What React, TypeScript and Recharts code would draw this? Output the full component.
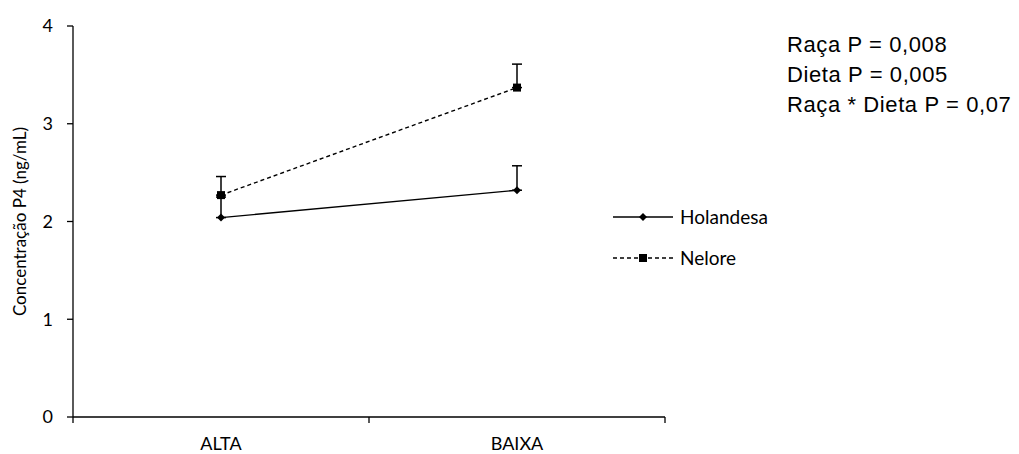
import React from "react";
import {
  LineChart,
  Line,
  XAxis,
  YAxis,
  ErrorBar,
  Legend,
  Label,
} from "recharts";

const categories = ["ALTA", "BAIXA"];
const holandesa = [2.04, 2.32];
const holandesaErr = [0.21, 0.25];
const nelore = [2.27, 3.37];
const neloreErr = [0.19, 0.24];
const yTicks = [0, 1, 2, 3, 4];
const stats = ["Raça P = 0,008", "Dieta P = 0,005", "Raça * Dieta P = 0,07"];

// categories sit in the middle of each band, tick marks on the band edges
const data = categories.map((c, i) => ({
  name: c,
  x: i + 0.5,
  holandesa: holandesa[i],
  holErr: [0, holandesaErr[i]],
  nelore: nelore[i],
  nelErr: [0, neloreErr[i]],
}));
const bandEdges = categories.map((_, i) => i).concat(categories.length);
const bandCentres = categories.map((_, i) => i + 0.5);

const FONT = "Lato, 'Open Sans', sans-serif";

const Diamond = (props: any) => {
  const { cx, cy } = props;
  if (cx == null || cy == null) return null;
  const r = 4;
  return (
    <polygon
      points={`${cx},${cy - r} ${cx + r},${cy} ${cx},${cy + r} ${cx - r},${cy}`}
      fill="#000"
    />
  );
};

const Square = (props: any) => {
  const { cx, cy } = props;
  if (cx == null || cy == null) return null;
  const s = 4;
  return <rect x={cx - s} y={cy - s} width={s * 2} height={s * 2} fill="#000" />;
};

const LegendBox = () => (
  <div style={{ fontFamily: FONT, fontSize: 19, color: "#000" }}>
    {[
      { label: "Holandesa", dash: undefined, Marker: Diamond },
      { label: "Nelore", dash: "4 3", Marker: Square },
    ].map(({ label, dash, Marker }) => (
      <div
        key={label}
        style={{ display: "flex", alignItems: "center", height: 41 }}
      >
        <svg width={62} height={12} style={{ marginRight: 5 }}>
          <line
            x1={0}
            y1={6}
            x2={60}
            y2={6}
            stroke="#000"
            strokeWidth={1.3}
            strokeDasharray={dash}
          />
          <Marker cx={30} cy={6} />
        </svg>
        <span>{label}</span>
      </div>
    ))}
  </div>
);

export default function App() {
  return (
    <div style={{ position: "absolute", left: 0, top: 0, background: "#fff" }}>
      <LineChart
        width={1019}
        height={454}
        data={data}
        margin={{ top: 26, right: 354, bottom: 0, left: 13 }}
      >
        <XAxis
          xAxisId="edges"
          dataKey="x"
          type="number"
          domain={[0, 2]}
          ticks={bandEdges}
          tickFormatter={() => ""}
          height={1}
          tickSize={6}
          axisLine={{ stroke: "#000", strokeWidth: 1.3 }}
          tickLine={{ stroke: "#000", strokeWidth: 1.3 }}
        />
        <XAxis
          xAxisId="labels"
          dataKey="x"
          type="number"
          domain={[0, 2]}
          ticks={bandCentres}
          tickFormatter={(v: number) => categories[Math.round(v - 0.5)]}
          height={36}
          tickSize={0}
          tickMargin={19}
          axisLine={false}
          tickLine={false}
          tick={{ fill: "#000", fontSize: 18, fontFamily: FONT }}
        />
        <YAxis
          domain={[0, 4]}
          ticks={yTicks}
          width={60}
          tickSize={6}
          tickMargin={14}
          axisLine={{ stroke: "#000", strokeWidth: 1.3 }}
          tickLine={{ stroke: "#000", strokeWidth: 1.3 }}
          tick={{ fill: "#000", fontSize: 18, fontFamily: FONT }}
        >
          <Label
            value="Concentração P4 (ng/mL)"
            angle={-90}
            position="insideLeft"
            offset={7}
            style={{
              textAnchor: "middle",
              fill: "#000",
              fontSize: 17,
              fontFamily: FONT,
            }}
          />
        </YAxis>
        <Legend
          layout="horizontal"
          verticalAlign="middle"
          align="center"
          content={<LegendBox />}
          wrapperStyle={{ left: 613, top: 196, width: 200 }}
        />
        <Line
          xAxisId="edges"
          dataKey="holandesa"
          name="Holandesa"
          stroke="#000"
          strokeWidth={1.4}
          dot={<Diamond />}
          activeDot={false}
          isAnimationActive={false}
        >
          <ErrorBar
            dataKey="holErr"
            direction="y"
            width={5}
            stroke="#000"
            strokeWidth={1.5}
          />
        </Line>
        <Line
          xAxisId="edges"
          dataKey="nelore"
          name="Nelore"
          stroke="#000"
          strokeWidth={1.4}
          strokeDasharray="4 3"
          dot={<Square />}
          activeDot={false}
          isAnimationActive={false}
        >
          <ErrorBar
            dataKey="nelErr"
            direction="y"
            width={5}
            stroke="#000"
            strokeWidth={1.5}
          />
        </Line>
        <text
          x={787}
          fontFamily="'Liberation Sans', Arial, sans-serif"
          fontSize={22}
          letterSpacing={0.6}
          fill="#000"
        >
          {stats.map((s, i) => (
            <tspan key={s} x={787} y={52 + i * 30}>
              {s}
            </tspan>
          ))}
        </text>
      </LineChart>
    </div>
  );
}
